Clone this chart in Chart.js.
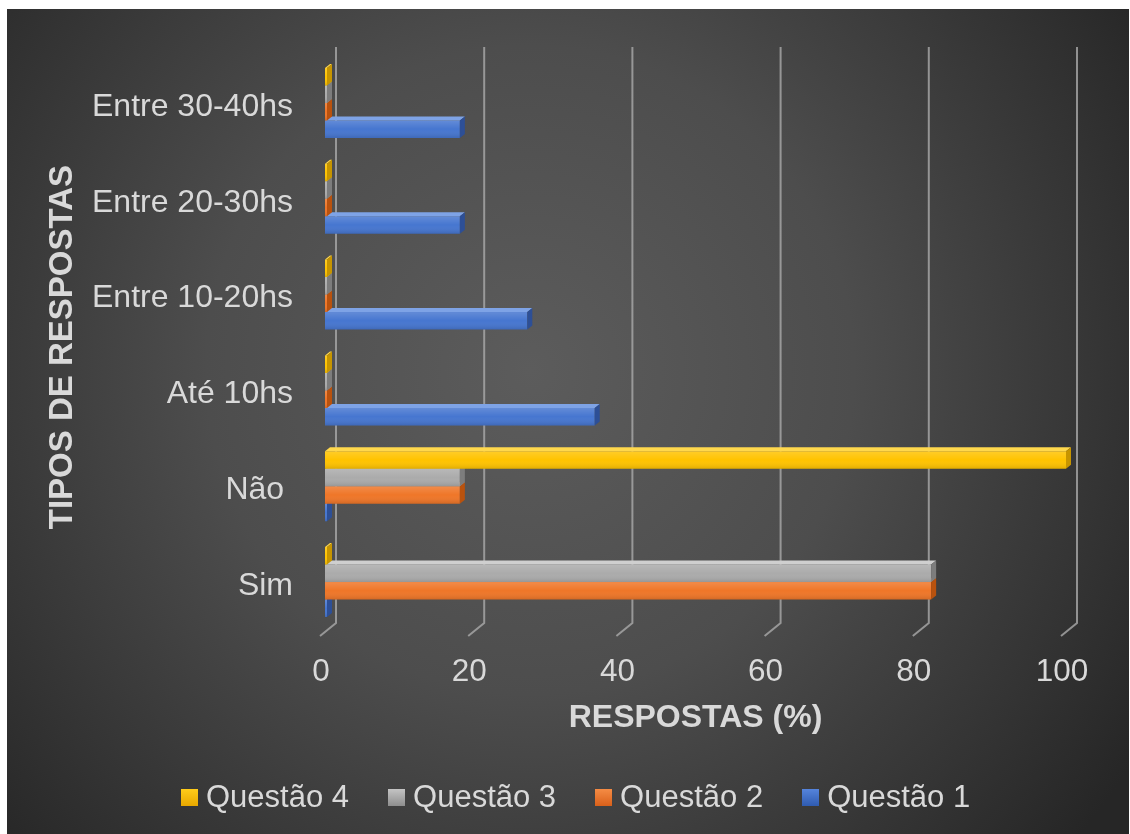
<!DOCTYPE html>
<html><head><meta charset="utf-8">
<script src="https://cdn.jsdelivr.net/npm/chart.js@4.4.0/dist/chart.umd.min.js"></script>
<style>
html,body{margin:0;padding:0;background:#fff;}
#wrap{position:relative;width:1130px;height:834px;overflow:hidden;}
canvas{position:absolute;left:0;top:0;}
#legend{position:absolute;left:181px;top:779px;display:flex;align-items:center;gap:39px;font-family:"Liberation Sans",Arial,sans-serif;font-size:31px;line-height:36px;color:#d9d9d9;white-space:nowrap;}
.item{display:flex;align-items:center;}
.box{width:17px;height:17px;margin-right:8px;}
</style></head><body>
<div id="wrap"><canvas id="c" width="1130" height="834"></canvas><div id="legend"></div></div>
<script>
const categories = ['Entre 30-40hs','Entre 20-30hs','Entre 10-20hs','Até 10hs','Não ','Sim'];
const seriesNames = ['Questão 4','Questão 3','Questão 2','Questão 1'];
const questao4 = [0, 0, 0, 0, 100, 0];
const questao3 = [0, 0, 0, 0, 18.2, 81.8];
const questao2 = [0, 0, 0, 0, 18.2, 81.8];
const questao1 = [18.2, 18.2, 27.3, 36.4, 0, 0];
const xTicks = [0, 20, 40, 60, 80, 100];

const frontColors = ['#ffc300', '#ababab', '#ef7628', '#4676d0'];
const topColors   = ['#ffd84d', '#cfcfcf', '#f7a063', '#7ea3e6'];
const sideColors  = ['#c79500', '#7d7d7d', '#b9520e', '#2d4f96'];
const legendGrads = [['#ffcc1a','#e8a800'],['#c4c4c4','#8e8e8e'],['#f58c45','#d9601a'],['#5584dc','#2f5bb0']];

const DX = 5, DY = 4;
const FONT = '"Liberation Sans", Arial, sans-serif';
const TXT = '#d9d9d9';

const bgPlugin = {
  id: 'bg',
  beforeDraw(chart) {
    const ctx = chart.ctx;
    ctx.save();
    ctx.fillStyle = '#ffffff';
    ctx.fillRect(0, 0, chart.width, chart.height);
    const g = ctx.createRadialGradient(530, 370, 0, 530, 370, 720);
    g.addColorStop(0, '#5c5c5c');
    g.addColorStop(0.45, '#4d4d4d');
    g.addColorStop(1, '#262626');
    ctx.fillStyle = g;
    ctx.fillRect(7, 9, chart.width - 8, chart.height - 9);
    ctx.restore();
  }
};

const gridPlugin = {
  id: 'grid3d',
  beforeDatasetsDraw(chart) {
    const ctx = chart.ctx, xs = chart.scales.x;
    ctx.save();
    ctx.strokeStyle = 'rgba(170,170,170,0.8)';
    ctx.lineWidth = 2;
    xTicks.forEach(v => {
      const p = xs.getPixelForValue(v);
      ctx.beginPath();
      ctx.moveTo(p - 5, 636);
      ctx.lineTo(p + 11, 623);
      ctx.lineTo(p + 11, 47);
      ctx.stroke();
    });
    ctx.restore();
  }
};

const barPlugin = {
  id: 'bar3d',
  afterDatasetDraw(chart, args) {
    const ctx = chart.ctx;
    const i = args.index;
    ctx.save();
    args.meta.data.forEach(el => {
      const {x, y, base, height} = el.getProps(['x','y','base','height'], true);
      const top = y - height / 2, bottom = y + height / 2;
      const left = Math.max(Math.min(x, base), chart.chartArea.left);
      const right = Math.max(x, base);
      const g = ctx.createLinearGradient(0, top, 0, bottom);
      g.addColorStop(0, 'rgba(255,255,255,0.16)');
      g.addColorStop(0.5, 'rgba(255,255,255,0.0)');
      g.addColorStop(1, 'rgba(0,0,0,0.12)');
      ctx.fillStyle = g;
      ctx.fillRect(left, top, right - left, height);
      ctx.beginPath();
      ctx.moveTo(left, top);
      ctx.lineTo(left + DX, top - DY);
      ctx.lineTo(right + DX, top - DY);
      ctx.lineTo(right, top);
      ctx.closePath();
      ctx.fillStyle = topColors[i];
      ctx.fill();
      ctx.beginPath();
      ctx.moveTo(right, top);
      ctx.lineTo(right + DX, top - DY);
      ctx.lineTo(right + DX, bottom - DY);
      ctx.lineTo(right, bottom);
      ctx.closePath();
      ctx.fillStyle = sideColors[i];
      ctx.fill();
    });
    ctx.restore();
  }
};

const seriesData = [questao4, questao3, questao2, questao1];

new Chart(document.getElementById('c'), {
  type: 'bar',
  data: {
    labels: categories,
    datasets: seriesNames.map((n, i) => ({
      label: n,
      data: seriesData[i],
      backgroundColor: frontColors[i],
      borderWidth: 0,
      barPercentage: 1,
      categoryPercentage: 0.73,
      minBarLength: 2
    }))
  },
  options: {
    indexAxis: 'y',
    responsive: false,
    animation: false,
    devicePixelRatio: 1,
    layout: { padding: { left: 0, right: 64, top: 55, bottom: 80 } },
    plugins: { legend: { display: false }, tooltip: { enabled: false } },
    scales: {
      x: {
        min: 0, max: 100,
        afterFit(s) { s.height = 124; },
        afterBuildTicks(s) { s.ticks = xTicks.map(v => ({ value: v })); },
        grid: { display: false, drawTicks: false },
        border: { display: false },
        ticks: { color: TXT, font: { family: FONT, size: 31.5 }, padding: 23, labelOffset: -4, maxRotation: 0 },
        title: { display: true, text: 'RESPOSTAS (%)', color: TXT, font: { family: FONT, size: 32, weight: 'bold' }, padding: { top: 0, bottom: 17 } }
      },
      y: {
        afterFit(s) { s.width = 325; },
        grid: { display: false, drawTicks: false },
        border: { display: false },
        ticks: { color: TXT, font: { family: FONT, size: 32 }, padding: 32, labelOffset: 4 },
        title: { display: true, text: 'TIPOS DE RESPOSTAS ', color: TXT, font: { family: FONT, size: 33, weight: 'bold' }, padding: { top: 43, bottom: 0 } }
      }
    }
  },
  plugins: [bgPlugin, gridPlugin, barPlugin]
});

const legend = document.getElementById('legend');
seriesNames.forEach((n, i) => {
  const item = document.createElement('div');
  item.className = 'item';
  const b = document.createElement('div');
  b.className = 'box';
  b.style.background = 'linear-gradient(' + legendGrads[i][0] + ',' + legendGrads[i][1] + ')';
  const t = document.createElement('span');
  t.textContent = n;
  item.appendChild(b); item.appendChild(t);
  legend.appendChild(item);
});
</script>
</body></html>
